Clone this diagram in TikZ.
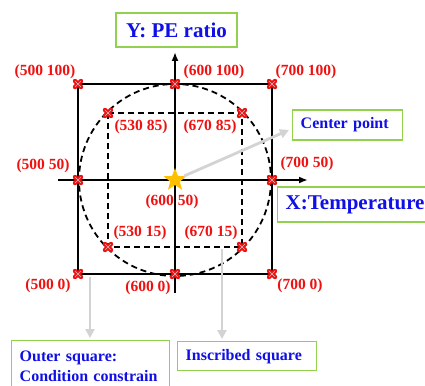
\documentclass[tikz,border=0pt]{standalone}
\usepackage{fontspec}
\setmainfont{Liberation Serif}
\usetikzlibrary{arrows.meta,positioning,shapes.geometric}
\definecolor{cRed}{HTML}{F01010}
\definecolor{cBlue}{HTML}{1010E6}
\definecolor{cFrame}{HTML}{92D050}
\definecolor{cHint}{HTML}{D3D3D3}
\definecolor{cStar}{HTML}{FFC000}
\tikzset{
  lblbox/.style={draw=cFrame, line width=1.4pt, fill=white, text=cBlue, align=left,
                 inner xsep=8pt, inner ysep=0pt, font=\fontsize{16}{20}\selectfont\bfseries},
  axbox/.style={lblbox, font=\fontsize{21}{24}\selectfont\bfseries},
  coord/.style={text=cRed, inner sep=0pt, font=\fontsize{15.5}{16}\selectfont\bfseries},
  outsq/.style={line width=2.2pt, black},
  insq/.style={line width=1.8pt, black, dash pattern=on 6pt off 4pt},
  axis/.style={line width=2.2pt, black, -{Latex[length=9pt,width=7pt]}},
  hint/.style={line width=2.8pt, cHint, -{Triangle[length=9pt,width=9pt]}},
  ptmark/.pic={
    \draw[cRed, line width=4.4pt, line cap=round] (-3,-3) -- (3,3) (-3,3) -- (3,-3);
    \draw[white!55!gray, line width=0.6pt] (-3,-3) -- (3,3) (-3,3) -- (3,-3);
  }
}

\begin{document}
\begin{tikzpicture}[x=1pt, y=-1pt]
\path[fill=white, use as bounding box] (0,0) rectangle (425,385);
% grid points of the outer square
\coordinate (o500-100) at (78,84);  \coordinate (o600-100) at (175,84);  \coordinate (o700-100) at (272,84);
\coordinate (o500-50)  at (78,180); \coordinate (ctrpt)    at (175,180); \coordinate (o700-50)  at (272,180);
\coordinate (o500-0)   at (78,274); \coordinate (o600-0)   at (175,274); \coordinate (o700-0)   at (272,274);
% corners of the inscribed square
\coordinate (i530-85) at (108,113); \coordinate (i670-85) at (242,113);
\coordinate (i530-15) at (108,247); \coordinate (i670-15) at (242,247);
% axes
\coordinate (xl) at (58,180);  \coordinate (xr) at (308,180);
\coordinate (yb) at (175,293); \coordinate (yt) at (175,52);
\draw[insq] (ctrpt) circle (96);
\draw[insq] (i530-85) rectangle (i670-15);
\draw[outsq] (o500-0) rectangle (o700-100);
\draw[axis] (xl) -- (xr);
\draw[axis] (yb) -- (yt);
\foreach \p in {o500-100,o600-100,o700-100,o500-50,o700-50,o500-0,o600-0,o700-0,
                i530-85,i670-85,i530-15,i670-15}
  \pic at (\p) {ptmark};
\node[star, star points=5, star point ratio=2.4, fill=cStar, minimum size=24pt, inner sep=0pt] (ctr) at (ctrpt) {};
% point labels
\node[coord] (l500-100) at (45,72)  {(500 100)};
\node[coord] (l600-100) at (214,72) {(600 100)};
\node[coord] (l700-100) at (306,72) {(700 100)};
\node[coord] (l530-85)  at (141,127) {(530 85)};
\node[coord] (l670-85)  at (210,127) {(670 85)};
\node[coord] (l500-50)  at (43,166) {(500 50)};
\node[coord] (l700-50)  at (307,164) {(700 50)};
\node[coord] (l600-50)  at (172,202) {(600 50)};
\node[coord] (l530-15)  at (140,233) {(530 15)};
\node[coord] (l670-15)  at (211,233) {(670 15)};
\node[coord] (l500-0)   at (48,286) {(500 0)};
\node[coord] (l600-0)   at (148,288) {(600 0)};
\node[coord] (l700-0)   at (300,286) {(700 0)};
% boxes
\node[axbox, minimum height=34pt, minimum width=121pt, align=center] (ybox) at (176.5,30) {Y: PE ratio};
\node[axbox, anchor=west, minimum height=35pt, text width=150pt] (xbox) at (277,204.5) {X:Temperature};
\node[lblbox, anchor=west, minimum height=30pt, text width=94pt] (cpbox) at (292,125) {Center point};
\node[lblbox, anchor=north west, minimum height=29pt, text width=123pt] (isbox) at (177,341) {Inscribed square};
\node[lblbox, anchor=north west, minimum height=52pt, text width=142pt] (osbox) at (11,340) {Outer square:\\Condition constrain};
% pointers
\coordinate (q1) at (90,277);
\coordinate (q2) at (222,249);
\draw[hint] (ctr) -- ([xshift=-3pt, yshift=-5pt]cpbox.west);
\draw[hint, shorten >=2pt] (q1) -- (q1 |- osbox.north);
\draw[hint, shorten >=2pt] (q2) -- (q2 |- isbox.north);
\end{tikzpicture}
\end{document}
